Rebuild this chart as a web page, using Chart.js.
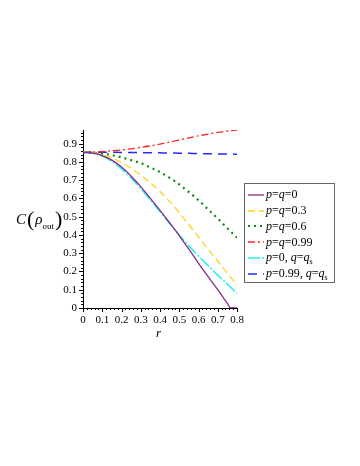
<!DOCTYPE html>
<html>
<head>
<meta charset="utf-8">
<script src="https://cdn.jsdelivr.net/npm/chart.js@4"></script>
<style>
    html, body { margin: 0; padding: 0; background: #fff; }
    #wrap { position: relative; width: 360px; height: 466px; }
    .serif { font-family: "Liberation Serif", "DejaVu Serif", serif; color: #000; }
    #ytitle { position: absolute; left: 16px; top: 204px; font-size: 15px; white-space: nowrap; letter-spacing: 0; }
    #ytitle .paren { font-size: 22px; position: relative; top: 2px; margin: 0 1px; }
    #ytitle sub { font-size: 9px; font-style: normal; vertical-align: -5px; }
    #xtitle { position: absolute; left: 156px; top: 325px; font-size: 13px; font-style: italic; }
    #legend { position: absolute; left: 244px; top: 183px; width: 91px; height: 100px;
              border: 1px solid #666; box-sizing: border-box; padding-top: 3px; }
    #legend .row { height: 15.8px; display: flex; align-items: center; font-size: 12px; white-space: nowrap; }
    #legend svg { margin-left: 3px; margin-right: 2px; flex: none; }
    #legend sub { font-size: 8px; font-style: normal; vertical-align: -3px; }
</style>
</head>
<body>
<div id="wrap">
    <canvas id="chart" width="360" height="466"></canvas>
    <div id="ytitle" class="serif"><i>C</i><span class="paren">(</span><i>ρ</i><sub>out</sub><span class="paren">)</span></div>
    <div id="xtitle" class="serif">r</div>
    <div id="legend" class="serif"></div>
</div>
<script>
    "use strict";

    var rValues = [0, 0.05, 0.1, 0.15, 0.2, 0.25, 0.3, 0.35, 0.4, 0.45, 0.5, 0.55, 0.6, 0.65, 0.7, 0.75, 0.8];
    var rPurple = [0, 0.05, 0.1, 0.15, 0.2, 0.25, 0.3, 0.35, 0.4, 0.45, 0.5, 0.55, 0.6, 0.65, 0.7, 0.75, 0.767, 0.8];

    var pq0 = [0.853, 0.848, 0.835, 0.81, 0.772, 0.722, 0.665, 0.60, 0.535, 0.467, 0.397, 0.322, 0.245, 0.172, 0.10, 0.025, 0, 0];
    var pq03 = [0.853, 0.850, 0.84, 0.822, 0.797, 0.765, 0.727, 0.685, 0.638, 0.583, 0.522, 0.456, 0.389, 0.322, 0.256, 0.19, 0.124];
    var pq06 = [0.853, 0.851, 0.846, 0.837, 0.825, 0.81, 0.793, 0.77, 0.745, 0.713, 0.677, 0.635, 0.59, 0.54, 0.49, 0.437, 0.385];
    var pq099 = [0.853, 0.854, 0.857, 0.861, 0.866, 0.872, 0.88, 0.888, 0.898, 0.909, 0.92, 0.932, 0.943, 0.953, 0.962, 0.969, 0.975];
    var p0qs = [0.853, 0.847, 0.832, 0.803, 0.762, 0.712, 0.655, 0.592, 0.527, 0.462, 0.40, 0.34, 0.285, 0.232, 0.18, 0.13, 0.08];
    var p099qs = [0.853, 0.853, 0.853, 0.853, 0.852, 0.852, 0.851, 0.851, 0.850, 0.849, 0.848, 0.847, 0.846, 0.845, 0.844, 0.843, 0.842];

    var xTicks = [0, 0.1, 0.2, 0.3, 0.4, 0.5, 0.6, 0.7, 0.8];
    var yTicks = [0, 0.1, 0.2, 0.3, 0.4, 0.5, 0.6, 0.7, 0.8, 0.9];

    var SERIF = "'Liberation Serif', 'DejaVu Serif', serif";

    function pairs(xs, ys) {
        return ys.map(function (y, i) { return { x: xs[i], y: y }; });
    }

    var seriesDefs = [
        { label: "<i>p</i>=<i>q</i>=0", xs: rPurple, ys: pq0, color: "#8a2a8a", dash: [], width: 1.3 },
        { label: "<i>p</i>=<i>q</i>=0.3", xs: rValues, ys: pq03, color: "#ffd21a", dash: [7, 4], width: 1.3 },
        { label: "<i>p</i>=<i>q</i>=0.6", xs: rValues, ys: pq06, color: "#118a11", dash: [2, 4], width: 2.2 },
        { label: "<i>p</i>=<i>q</i>=0.99", xs: rValues, ys: pq099, color: "#ff2020", dash: [7, 3, 2, 3], width: 1.3 },
        { label: "<i>p</i>=0, <i>q</i>=<i>q</i><sub>s</sub>", xs: rValues, ys: p0qs, color: "#22f0f0", dash: [12, 2, 2, 2], width: 1.5 },
        { label: "<i>p</i>=0.99, <i>q</i>=<i>q</i><sub>s</sub>", xs: rValues, ys: p099qs, color: "#2828ff", dash: [9, 6], width: 1.5 }
    ];

    // minor tick marks drawn along both axes
    var minorTicks = {
        id: "minorTicks",
        afterDraw: function (chart) {
            var ctx = chart.ctx;
            var xs = chart.scales.x, ys = chart.scales.y;
            var area = chart.chartArea;
            ctx.save();
            ctx.strokeStyle = "#000";
            ctx.lineWidth = 1;
            ctx.beginPath();
            for (var i = 0; i <= 40; i++) {
                var v = i * 0.02;
                var px = Math.round(xs.getPixelForValue(v)) + 0.5;
                var len = i % 5 === 0 ? 4 : 2;
                ctx.moveTo(px, area.bottom);
                ctx.lineTo(px, area.bottom + len);
            }
            for (var j = 0; j <= 48; j++) {
                var w = j * 0.02;
                var py = Math.round(ys.getPixelForValue(w)) + 0.5;
                var l = j % 5 === 0 ? 4 : 2;
                ctx.moveTo(area.left, py);
                ctx.lineTo(area.left - l, py);
            }
            ctx.stroke();
            ctx.restore();
        }
    };

    function buildLegend() {
        var box = document.getElementById("legend");
        seriesDefs.forEach(function (s) {
            var row = document.createElement("div");
            row.className = "row";
            var dash = s.dash.length ? ' stroke-dasharray="' + s.dash.join(",") + '"' : "";
            row.innerHTML = '<svg width="16" height="6"><line x1="0" y1="3" x2="16" y2="3" stroke="' + s.color +
                '" stroke-width="' + s.width + '"' + dash + '/></svg><span>' + s.label + '</span>';
            box.appendChild(row);
        });
    }

    function initChart() {
        var canvas = document.getElementById("chart");
        new Chart(canvas, {
            type: "line",
            data: {
                datasets: seriesDefs.map(function (s) {
                    return {
                        label: s.label,
                        data: pairs(s.xs, s.ys),
                        borderColor: s.color,
                        borderWidth: s.width,
                        borderDash: s.dash,
                        pointRadius: 0,
                        fill: false,
                        cubicInterpolationMode: "monotone"
                    };
                })
            },
            options: {
                responsive: false,
                animation: false,
                layout: { padding: { left: 60, right: 123, top: 130, bottom: 138 } },
                plugins: { legend: { display: false }, tooltip: { enabled: false } },
                scales: {
                    x: {
                        type: "linear",
                        min: 0,
                        max: 0.8,
                        afterBuildTicks: function (scale) {
                            scale.ticks = xTicks.map(function (v) { return { value: v }; });
                        },
                        afterFit: function (scale) { scale.height = 20; },
                        grid: { drawOnChartArea: false, drawTicks: false },
                        border: { color: "#000", width: 1 },
                        ticks: {
                            padding: 6,
                            color: "#000",
                            maxRotation: 0,
                            font: { family: SERIF, size: 11 },
                            callback: function (v) { return v === 0 ? "0" : v.toFixed(1); }
                        }
                    },
                    y: {
                        type: "linear",
                        min: 0,
                        max: 0.975,
                        afterBuildTicks: function (scale) {
                            scale.ticks = yTicks.map(function (v) { return { value: v }; });
                        },
                        afterFit: function (scale) { scale.width = 23; },
                        grid: { drawOnChartArea: false, drawTicks: false },
                        border: { color: "#000", width: 1 },
                        ticks: {
                            padding: 6,
                            color: "#000",
                            font: { family: SERIF, size: 11 },
                            callback: function (v) { return v === 0 ? "0" : v.toFixed(1); }
                        }
                    }
                }
            },
            plugins: [minorTicks]
        });
    }

    buildLegend();
    initChart();
</script>
</body>
</html>
